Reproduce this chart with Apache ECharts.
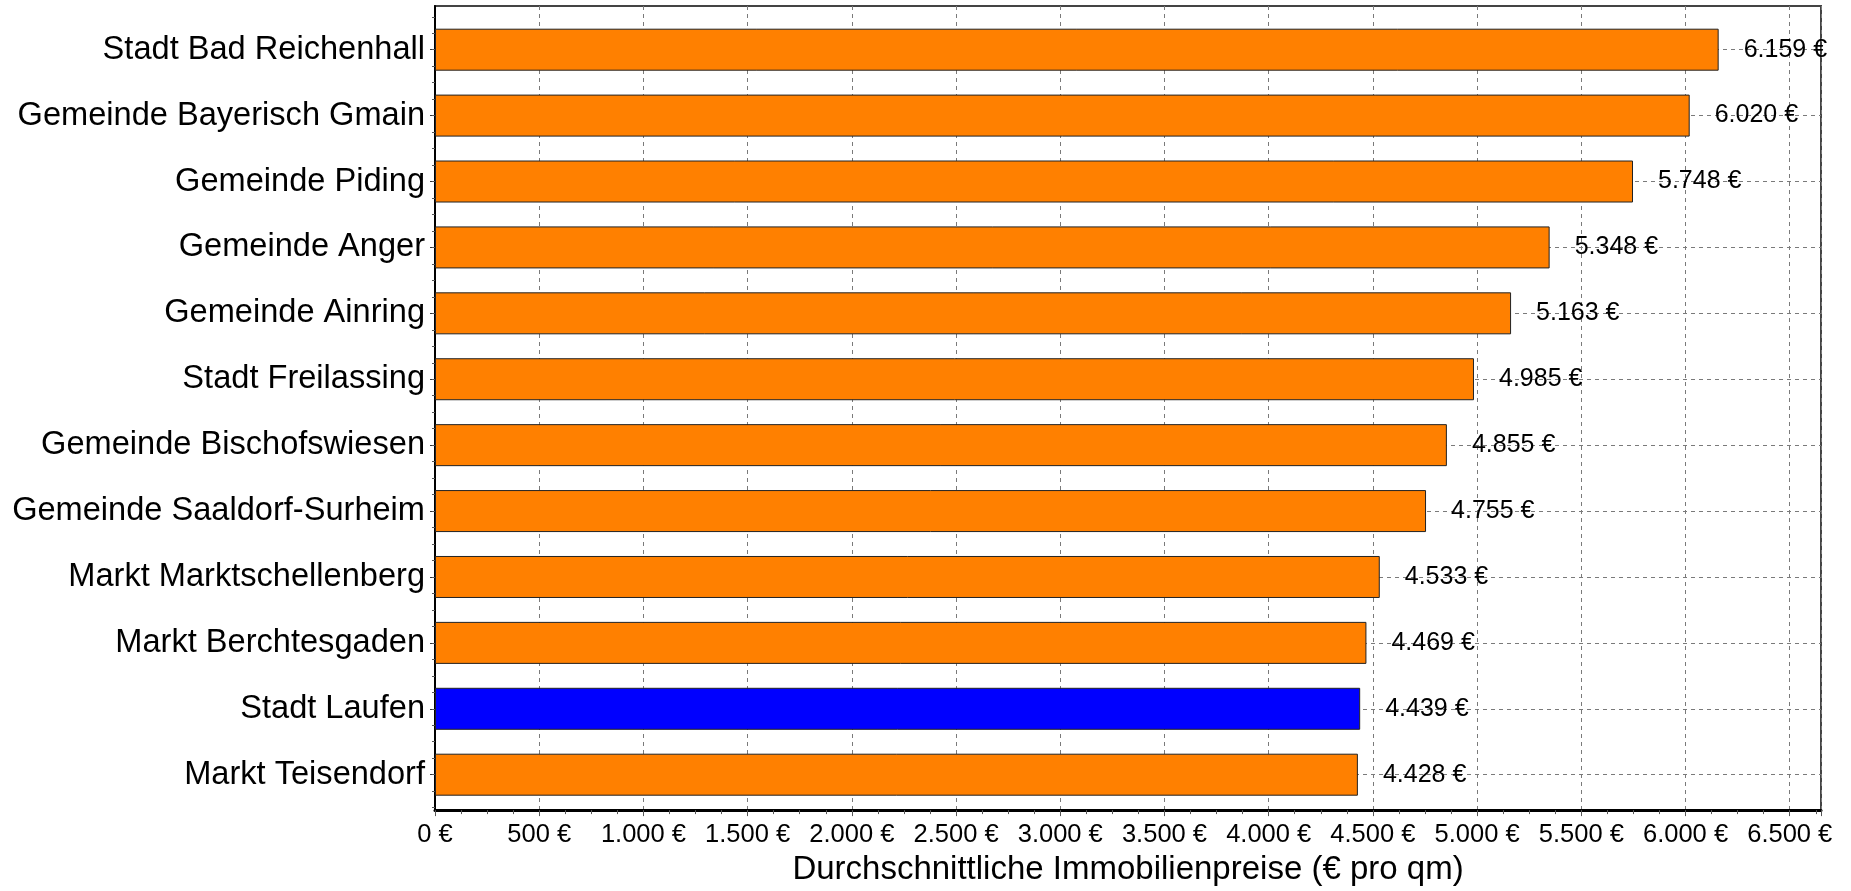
<!DOCTYPE html>
<html>
<head>
<meta charset="utf-8">
<script src="https://cdn.jsdelivr.net/npm/echarts@6/dist/echarts.min.js"></script>
<style>
html,body{margin:0;padding:0;background:#fff;}
#chart{width:1851px;height:891px;}
</style>
</head>
<body>
<div id="chart"></div>
<script>
const categories = [
  'Stadt Bad Reichenhall',
  'Gemeinde Bayerisch Gmain',
  'Gemeinde Piding',
  'Gemeinde Anger',
  'Gemeinde Ainring',
  'Stadt Freilassing',
  'Gemeinde Bischofswiesen',
  'Gemeinde Saaldorf-Surheim',
  'Markt Marktschellenberg',
  'Markt Berchtesgaden',
  'Stadt Laufen',
  'Markt Teisendorf'
];
const prices = [6159, 6020, 5748, 5348, 5163, 4985, 4855, 4755, 4533, 4469, 4439, 4428];
const highlighted = 'Stadt Laufen';
const axisTitle = 'Durchschnittliche Immobilienpreise (€ pro qm)';
const xMin = 0, xMax = 6650, xStep = 500;

function fmt(v) {
  const s = String(Math.round(v));
  return s.replace(/\B(?=(\d{3})+(?!\d))/g, '.') + ' €';
}

const FONT = 'Liberation Sans, Arial, sans-serif';
const chart = echarts.init(document.getElementById('chart'), null, {renderer: 'canvas'});

const L = 435, R = 30, TOP = 6, BOT = 74;
const band = 65.9;
const firstC = 49.7, lastC = 774.7;

chart.setOption({
  backgroundColor: '#fff',
  animation: false,
  grid: [
    {left: L, right: R, top: TOP, bottom: BOT, show: true, borderColor: '#444', borderWidth: 2, backgroundColor: '#fff', containLabel: false},
    {left: L, right: R, top: firstC, bottom: 891 - lastC, containLabel: false},
    {left: L, right: R, top: firstC - band / 2, bottom: 891 - lastC - band / 2, containLabel: false}
  ],
  xAxis: [
    {
      gridIndex: 0, type: 'value', min: xMin, max: xMax, interval: xStep,
      axisLine: {show: true, lineStyle: {color: '#000', width: 3}},
      axisTick: {show: true, length: 6, lineStyle: {color: '#555', width: 1}},
      minorTick: {show: true, splitNumber: 4, length: 4, lineStyle: {color: '#555', width: 1}},
      splitLine: {show: true, lineStyle: {color: '#7a7a7a', width: 1, type: [4, 4]}},
      axisLabel: {show: true, margin: 12, fontFamily: FONT, fontSize: 25.5, color: '#000', formatter: fmt, showMaxLabel: false},
      name: axisTitle, nameLocation: 'middle', nameGap: 40,
      nameTextStyle: {fontFamily: FONT, fontSize: 33, color: '#000'}
    },
    {gridIndex: 1, type: 'value', min: xMin, max: xMax, show: false},
    {gridIndex: 2, type: 'value', min: xMin, max: xMax, show: false}
  ],
  yAxis: [
    {
      gridIndex: 0, type: 'value', min: 0, max: 1,
      axisLine: {show: true, lineStyle: {color: '#000', width: 2}},
      axisTick: {show: false}, axisLabel: {show: false}, splitLine: {show: false}
    },
    {
      gridIndex: 1, type: 'category', data: categories, inverse: true, boundaryGap: false,
      axisLine: {show: false},
      axisTick: {show: true, length: 5, lineStyle: {color: '#333', width: 1}},
      axisLabel: {show: true, margin: 10, fontFamily: FONT, fontSize: 32.6, color: '#000', interval: 0},
      splitLine: {show: true, lineStyle: {color: '#7a7a7a', width: 1, type: [4, 4]}}
    },
    {
      gridIndex: 2, type: 'value', min: -0.5, max: categories.length - 0.5, interval: 0.25, inverse: true,
      axisLine: {show: false},
      axisTick: {show: true, length: 3, lineStyle: {color: '#555', width: 1}},
      axisLabel: {show: false}, splitLine: {show: false}
    }
  ],
  series: [{
    type: 'bar',
    xAxisIndex: 1, yAxisIndex: 1,
    clip: false,
    barWidth: 42,
    data: prices.map((v, i) => ({
      value: v,
      itemStyle: {color: categories[i] === highlighted ? '#0000FF' : '#FF8000'}
    })),
    itemStyle: {borderColor: '#222', borderWidth: 1},
    label: {
      show: true, position: 'right', distance: 25,
      fontFamily: FONT, fontSize: 25, color: '#000',
      formatter: p => fmt(p.value)
    },
    z: 3
  }]
});
</script>
</body>
</html>
